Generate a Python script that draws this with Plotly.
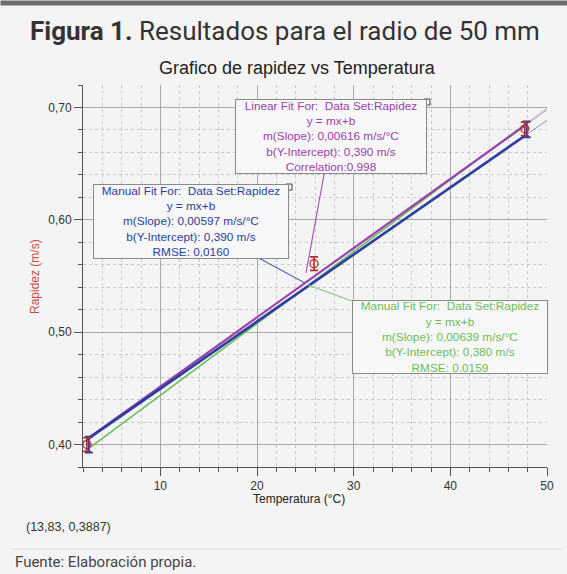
import plotly.graph_objects as go

# ---------------- data ----------------
temperatura = [2.4, 25.9, 47.7]          # °C
rapidez = [0.400, 0.561, 0.681]          # m/s
error_rapidez = [0.006, 0.006, 0.006]

manual_end_x = [2.6, 47.9]               # blue end bars of the manual fit
manual_end_y = [0.400, 0.6805]
manual_end_err = [0.007, 0.007]

linear_m, linear_b = 0.00616, 0.390      # Linear fit (purple)
blue_m, blue_b = 0.00597, 0.390          # Manual fit (blue)
green_m, green_b = 0.00639, 0.380        # Manual fit (green)

x_ticks = [10, 20, 30, 40, 50]
y_ticks = [0.40, 0.50, 0.60, 0.70]
x_range = [2, 50]
y_range = [0.38, 0.72]

# ---------------- geometry ----------------
W, H = 567, 574
ML, MR, MT, MB = 83, 20, 85, 107
PW, PH = W - ML - MR, H - MT - MB


def px_x(p):  # page pixel -> data x
    return x_range[0] + (p - ML) / PW * (x_range[1] - x_range[0])


def px_y(p):  # page pixel -> data y
    return y_range[1] - (p - MT) / PH * (y_range[1] - y_range[0])


def pap_x(p):
    return (p - ML) / PW


def pap_y(p):
    return (H - MB - p) / PH


PURPLE = "#9c40ac"
BLUE = "#2b3f9e"
GREEN = "#6cbd5a"
RED = "#b32f2f"

fig = go.Figure()

xmin, xmax = min(temperatura), max(temperatura)


def fit_traces(m, b, color, width):
    # thick over the data range, thin extension to the axis edges
    fig.add_trace(go.Scatter(x=[x_range[0], xmin], y=[m * x_range[0] + b, m * xmin + b],
                             mode="lines", line=dict(color=color, width=1), opacity=0.55,
                             hoverinfo="skip", showlegend=False))
    fig.add_trace(go.Scatter(x=[xmax, x_range[1]], y=[m * xmax + b, m * x_range[1] + b],
                             mode="lines", line=dict(color=color, width=1), opacity=0.55,
                             hoverinfo="skip", showlegend=False))
    fig.add_trace(go.Scatter(x=[xmin, xmax], y=[m * xmin + b, m * xmax + b],
                             mode="lines", line=dict(color=color, width=width),
                             hoverinfo="skip", showlegend=False))


fit_traces(green_m, green_b, GREEN, 1.6)
fit_traces(linear_m, linear_b, PURPLE, 2.2)
fit_traces(blue_m, blue_b, BLUE, 2.6)

# blue end bars
fig.add_trace(go.Scatter(x=manual_end_x, y=manual_end_y, mode="markers",
                         marker=dict(size=1, color=BLUE),
                         error_y=dict(type="data", array=manual_end_err, color=BLUE,
                                      thickness=2, width=4),
                         showlegend=False, cliponaxis=False))

# data points
fig.add_trace(go.Scatter(x=temperatura, y=rapidez, mode="markers",
                         marker=dict(symbol="circle-open", size=8, color=RED,
                                     line=dict(width=1.3, color=RED)),
                         error_y=dict(type="data", array=error_rapidez, color=RED,
                                      thickness=1.6, width=4),
                         showlegend=False, cliponaxis=False))

# ---------------- fit boxes ----------------
boxes = [
    dict(cx=331, cy=136.5, w=192, h=75, color=PURPLE, line="#a44bb5",
         target=(306, 273),
         text="Linear Fit For:  Data Set:Rapidez<br>y = mx+b<br>"
              "m(Slope): 0,00616 m/s/°C<br>b(Y-Intercept): 0,390 m/s<br>Correlation:0,998"),
    dict(cx=191, cy=221.5, w=196, h=75, color=BLUE, line="#5566b8",
         target=(305, 283),
         text="Manual Fit For:  Data Set:Rapidez<br>y = mx+b<br>"
              "m(Slope): 0,00597 m/s/°C<br>b(Y-Intercept): 0,390 m/s<br>RMSE: 0,0160"),
    dict(cx=450, cy=337, w=196, h=74, color=GREEN, line="#86c977",
         target=(308, 285),
         text="Manual Fit For:  Data Set:Rapidez<br>y = mx+b<br>"
              "m(Slope): 0,00639 m/s/°C<br>b(Y-Intercept): 0,380 m/s<br>RMSE: 0,0159"),
]

annotations = []
corner_x, corner_y = [], []
for bx in boxes:
    annotations.append(dict(
        x=px_x(bx["target"][0]), y=px_y(bx["target"][1]), xref="x", yref="y",
        ax=px_x(bx["cx"]), ay=px_y(bx["cy"]), axref="x", ayref="y",
        text=bx["text"], showarrow=True, arrowhead=0, arrowwidth=1.1,
        arrowcolor=bx["line"], standoff=0, startstandoff=0,
        font=dict(family="Liberation Sans, Arial", size=11.8, color=bx["color"]),
        bgcolor="#f7f7f7", bordercolor="#8a8a8a", borderwidth=1, borderpad=1,
        width=bx["w"] - 4, height=bx["h"] - 4, align="center", valign="middle"))
    corner_x.append(px_x(bx["cx"] + bx["w"] / 2))
    corner_y.append(px_y(bx["cy"] - bx["h"] / 2 + 3))

fig.add_trace(go.Scatter(x=corner_x, y=corner_y, mode="markers",
                         marker=dict(symbol="square-open", size=6, color="#444",
                                     line=dict(width=1)),
                         showlegend=False, cliponaxis=False, hoverinfo="skip"))

# ---------------- page texts ----------------
annotations += [
    # dark rule at the top of the page
    dict(text=" ", xref="paper", yref="paper", x=pap_x(0), y=pap_y(3),
         xanchor="left", yanchor="middle", showarrow=False, width=W, height=2,
         bgcolor="#6e6e6e", borderpad=1, font=dict(size=1)),
    dict(text="<b>Figura 1.</b> Resultados para el radio de 50 mm", xref="paper", yref="paper",
         x=pap_x(28), y=pap_y(31), xanchor="left", yanchor="middle", showarrow=False,
         font=dict(family="Roboto", size=26, color="#333333")),
    dict(text="Grafico de rapidez vs Temperatura", xref="paper", yref="paper",
         x=pap_x(297), y=pap_y(68), xanchor="center", yanchor="middle", showarrow=False,
         font=dict(family="Liberation Sans, Arial", size=18, color="#222222")),
    dict(text="Temperatura (°C)", xref="paper", yref="paper",
         x=pap_x(299), y=pap_y(499), xanchor="center", yanchor="middle", showarrow=False,
         font=dict(family="Liberation Sans, Arial", size=12, color="#222222")),
    dict(text="Rapidez (m/s)", xref="paper", yref="paper", textangle=-90,
         x=pap_x(35), y=pap_y(277), xanchor="center", yanchor="middle", showarrow=False,
         font=dict(family="Liberation Sans, Arial", size=12, color="#c84a4a")),
    dict(text="(13,83, 0,3887)", xref="paper", yref="paper",
         x=pap_x(24), y=pap_y(527), xanchor="left", yanchor="middle", showarrow=False,
         font=dict(family="Liberation Sans, Arial", size=12.5, color="#333333")),
    dict(text="Fuente: Elaboración propia.", xref="paper", yref="paper",
         x=pap_x(13), y=pap_y(562), xanchor="left", yanchor="middle", showarrow=False,
         font=dict(family="Roboto", size=15, color="#444444")),
]

shapes = [
    dict(type="line", xref="paper", yref="paper", x0=pap_x(12), x1=pap_x(W - 5),
         y0=pap_y(549), y1=pap_y(549), line=dict(color="#e2e2e2", width=1)),
]

axis_font = dict(family="Liberation Sans, Arial", size=12, color="#333333")

fig.update_layout(
    width=W, height=H, autosize=False,
    margin=dict(l=ML, r=MR, t=MT, b=MB),
    paper_bgcolor="#f4f4f4", plot_bgcolor="#f4f4f4",
    separators=",.",
    showlegend=False,
    annotations=annotations,
    shapes=shapes,
    xaxis=dict(range=x_range, tickvals=x_ticks, ticks="outside", ticklen=8,
               tickcolor="#555", tickwidth=1, showline=True, linecolor="#555",
               linewidth=1, showgrid=True, gridcolor="#a9a9a9", gridwidth=1,
               zeroline=False, tickfont=axis_font,
               minor=dict(dtick=2, tick0=0, ticks="outside", ticklen=4, tickcolor="#555",
                          showgrid=True, gridcolor="#c9c9c9", griddash="dot", gridwidth=1)),
    yaxis=dict(range=y_range, tickvals=y_ticks, tickformat=".2f", ticks="outside",
               ticklen=8, tickcolor="#555", tickwidth=1, showline=True,
               linecolor="#555", linewidth=1, showgrid=True, gridcolor="#a9a9a9",
               gridwidth=1, zeroline=False, tickfont=axis_font,
               minor=dict(dtick=0.02, tick0=0, ticks="outside", ticklen=4,
                          tickcolor="#555", showgrid=True, gridcolor="#c9c9c9",
                          griddash="dot", gridwidth=1)),
)

fig.write_html(
    "out.html",
    config={"displayModeBar": False},
    post_script="document.body.style.margin='0';document.body.style.overflow='hidden';"
                "document.body.style.background='#f4f4f4';",
)
